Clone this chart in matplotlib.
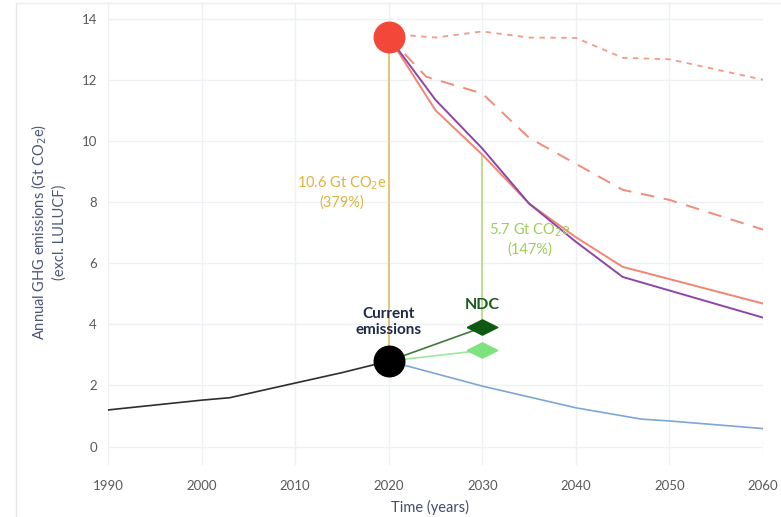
import matplotlib
matplotlib.use("Agg")
import matplotlib.pyplot as plt
from matplotlib.lines import Line2D

plt.rcParams["font.family"] = ["Lato", "DejaVu Sans"]

# -- data ----------------------------------------------------------------------
hist_years = [1990, 2000, 2003, 2010, 2015, 2020]
hist_vals = [1.2, 1.52, 1.6, 2.08, 2.42, 2.8]

low_years = [2020, 2030, 2040, 2047, 2050, 2060]
low_vals = [2.8, 1.98, 1.27, 0.9, 0.84, 0.59]

orange_years = [2020, 2025, 2030, 2035, 2040, 2045, 2060]
orange_vals = [13.4, 11.0, 9.55, 7.95, 6.85, 5.88, 4.68]

purple_years = [2020, 2025, 2030, 2035, 2040, 2045, 2060]
purple_vals = [13.4, 11.34, 9.75, 7.95, 6.7, 5.55, 4.22]

dotted_years = [2020, 2025, 2030, 2035, 2040, 2045, 2050, 2060]
dotted_vals = [13.5, 13.38, 13.58, 13.38, 13.37, 12.72, 12.67, 12.0]

dashed_years = [2020, 2024, 2030, 2035, 2040, 2045, 2050, 2060]
dashed_vals = [13.4, 12.1, 11.55, 10.1, 9.25, 8.4, 8.07, 7.1]

current_year, current_val = 2020, 2.8
bau_val = 13.4
ndc_year = 2030
ndc_cond, ndc_uncond = 3.9, 3.15
gap_2030_top = 9.55

gap_2020_label = "10.6 Gt CO$_2$e\n(379%)"
gap_2030_label = "5.7 Gt CO$_2$e\n(147%)"

xticks = [1990, 2000, 2010, 2020, 2030, 2040, 2050, 2060]
yticks = [0, 2, 4, 6, 8, 10, 12, 14]

# -- figure --------------------------------------------------------------------
fig = plt.figure(figsize=(7.81, 5.17), dpi=100)
ax = fig.add_axes([0.1383, 0.1006, 0.8387, 0.893])

ax.set_xlim(1990, 2060)
ax.set_ylim(-0.6, 14.5)
ax.set_xticks(xticks)
ax.set_yticks(yticks)
ax.grid(color="#eef0f4", linewidth=1.0, zorder=0)
for s in ax.spines.values():
    s.set_visible(False)
ax.tick_params(length=0, labelsize=9.5, labelcolor="#5a5a5a", pad=8)
ax.tick_params(axis="x", pad=11)

# gap lines
ax.plot([current_year, current_year], [current_val, bau_val], color="#e3c06a",
        linewidth=1.3, zorder=2)
ax.plot([ndc_year, ndc_year], [ndc_cond, gap_2030_top], color="#bfd98a",
        linewidth=1.3, zorder=2)

# scenario lines
ax.plot(dotted_years, dotted_vals, color="#f49a85", linewidth=1.3,
        linestyle=(0, (3, 3)), zorder=3)
ax.plot(dashed_years, dashed_vals, color="#f08c78", linewidth=1.4,
        linestyle=(0, (7, 5)), zorder=3)
ax.plot(orange_years, orange_vals, color="#f2856f", linewidth=1.4, zorder=3)
ax.plot(purple_years, purple_vals, color="#8e45a8", linewidth=1.4, zorder=3)
ax.plot(hist_years, hist_vals, color="#2e2e2e", linewidth=1.2, zorder=3)
ax.plot(low_years, low_vals, color="#7ea6d4", linewidth=1.2, zorder=3)

# NDC lines
ax.plot([current_year, ndc_year], [current_val, ndc_cond], color="#3c7a3c",
        linewidth=1.2, zorder=3)
ax.plot([current_year, ndc_year], [current_val, ndc_uncond], color="#9ee69e",
        linewidth=1.2, zorder=3)

diamond = [(-1, 0), (0, 0.5), (1, 0), (0, -0.5), (-1, 0)]
ax.plot([ndc_year], [ndc_cond], marker=diamond, markersize=22,
        color="#0f5a12", linestyle="none", zorder=5)
ax.plot([ndc_year], [ndc_uncond], marker=diamond, markersize=22,
        color="#80e27e", linestyle="none", zorder=5)

# big dots
ax.plot([current_year], [bau_val], marker="o", markersize=22,
        color="#f3473a", linestyle="none", zorder=6)
ax.plot([current_year], [current_val], marker="o", markersize=22,
        color="#000000", linestyle="none", zorder=6)

# annotations
ax.text(2015.0, 8.32, gap_2020_label, color="#dcb440", fontsize=10.5,
        ha="center", va="center", linespacing=1.3)
ax.text(2035.1, 6.8, gap_2030_label, color="#9fcd5a", fontsize=10.5,
        ha="center", va="center", linespacing=1.3)
ax.text(current_year, 4.07, "Current\nemissions", color="#1e2a46", fontsize=11,
        fontweight="bold", ha="center", va="center", linespacing=1.2)
ax.text(ndc_year, 4.62, "NDC", color="#1a5c1a", fontsize=11.5,
        fontweight="bold", ha="center", va="center")

# axis titles
fig.text(48 / 781, 1 - 232 / 517,
         "Annual GHG emissions (Gt CO$_2$e)\n(excl. LULUCF)",
         rotation=90, ha="center", va="center", multialignment="center",
         color="#4a5878", fontsize=10.5, linespacing=1.3)
fig.text(430 / 781, 1 - 507 / 517, "Time (years)", ha="center", va="center",
         color="#3f4d6e", fontsize=10.5)

# frame of screenshot
fig.add_artist(Line2D([16 / 781, 16 / 781], [0, 1 - 3 / 517],
                      transform=fig.transFigure, color="#e6e6e6", linewidth=1))
fig.add_artist(Line2D([16 / 781, 1], [1 - 3 / 517, 1 - 3 / 517],
                      transform=fig.transFigure, color="#eeeeee", linewidth=1))

fig.savefig("out.png", dpi=100, facecolor="white")
